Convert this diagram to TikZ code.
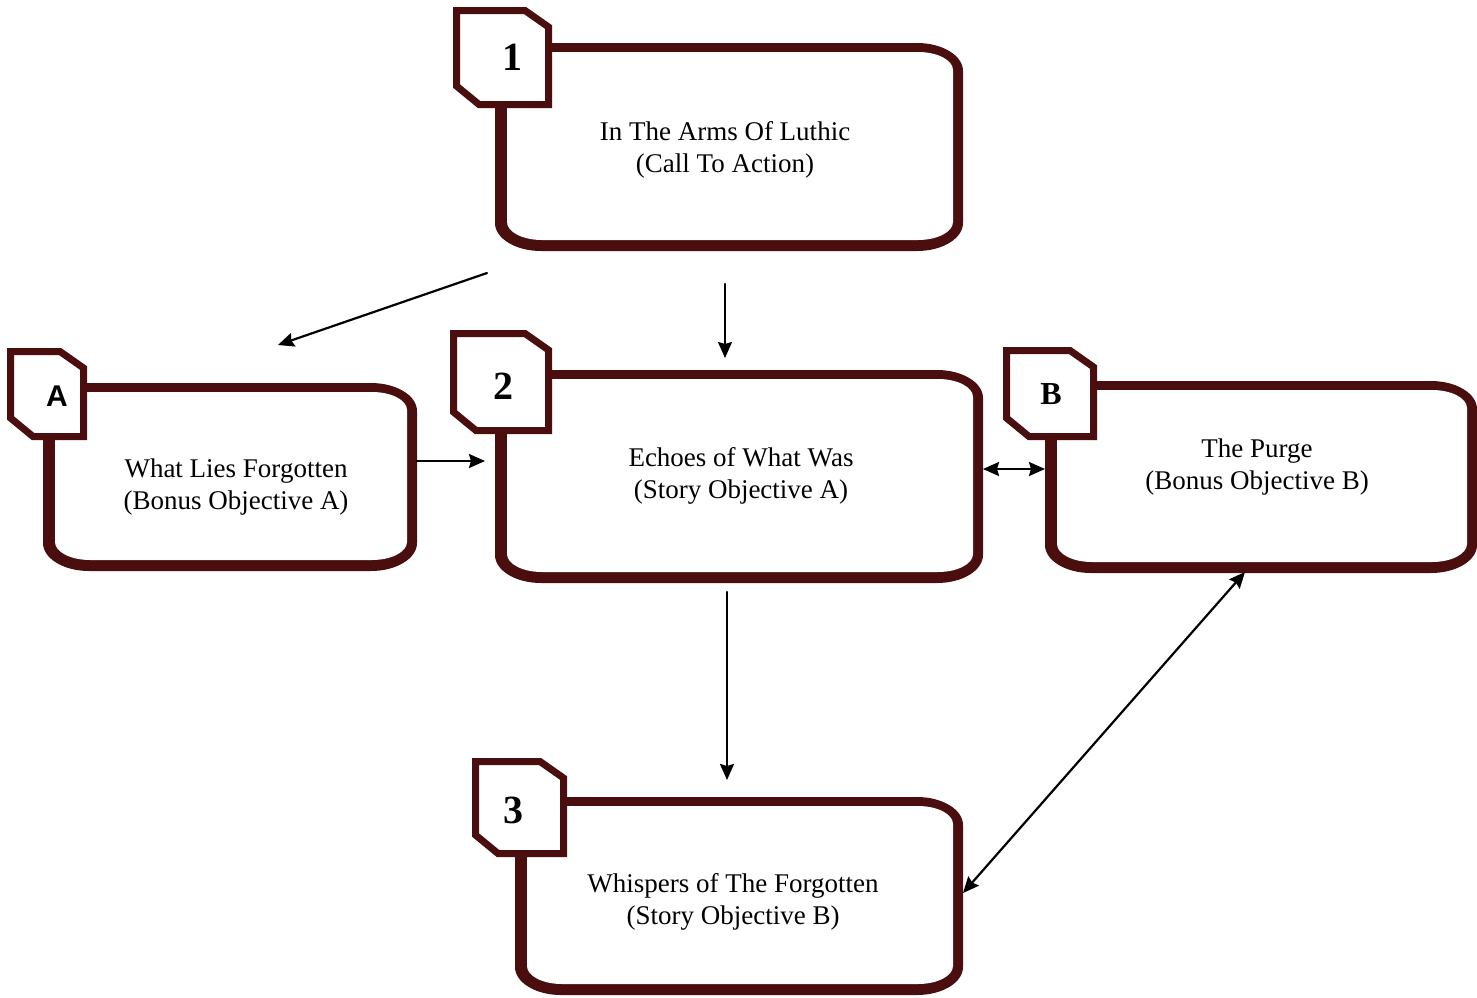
\documentclass[tikz,border=0pt]{standalone}
\usepackage{fontspec}
\setmainfont{Liberation Serif}
\setsansfont{Liberation Sans}
\usetikzlibrary{arrows.meta}
\definecolor{wine}{HTML}{4A0E0E}
\begin{document}
\begin{tikzpicture}[x=.5pt, y=-.5pt, line cap=round, >={Stealth[length=8pt, width=7pt, inset=1pt]}]
	\tikzset{
		quest/.style={align=center, font=\fontsize{13.5}{16}\selectfont},
		tag/.style={font=\fontsize{20}{20}\selectfont\bfseries},
		link/.style={line width=1.1pt}
	}
	% rounded panel, heavier on the left and bottom
	\def\panel(#1,#2,#3,#4){
		\fill[wine] (#1,#2) -- (#3-46,#2) arc[start angle=-90, end angle=0, x radius=46, y radius=28]
			-- (#3,#4-28) arc[start angle=0, end angle=90, x radius=46, y radius=28]
			-- (#1+46,#4) arc[start angle=90, end angle=180, x radius=46, y radius=28] -- cycle;
		\fill[white] (#1+12,#2+9) -- (#3-45,#2+9) arc[start angle=-90, end angle=0, x radius=35, y radius=18]
			-- (#3-10,#4-29) arc[start angle=0, end angle=90, x radius=35, y radius=18]
			-- (#1+47,#4-11) arc[start angle=90, end angle=180, x radius=35, y radius=18] -- cycle;
	}
	% clipped corner tab
	\def\badge(#1,#2,#3,#4){
		\filldraw[fill=white, draw=wine, line width=3.5pt, line join=miter] (#1+3.5,#2+3.5) -- (#3-27,#2+3.5) -- (#3-3.5,#2+20)
			-- (#3-3.5,#4-3.5) -- (#1+26,#4-3.5) -- (#1+3.5,#4-22) -- cycle;
	}
	\useasboundingbox (0,0) rectangle (1477,997);

	\panel(495,43,963,251) \badge(453,7,552,108)
	\panel(43,383,417,571) \badge(7,348,87,440)
	\panel(495,370,983,583) \badge(450,330,552,434)
	\panel(1045,381,1477,573) \badge(1003,347,1097,440)
	\panel(515,797,963,995) \badge(472,758,567,857)

	\node[tag] (n1) at (512,57) {1};
	\node[tag, font=\fontsize{15}{15}\selectfont\sffamily\bfseries] (nA) at (57,396) {A};
	\node[tag] (n2) at (503,386) {2};
	\node[tag, font=\fontsize{16}{16}\selectfont\bfseries] (nB) at (1051,394) {B};
	\node[tag] (n3) at (513,810) {3};

	\node[quest] (call) at (725,150) {In The Arms Of Luthic\\(Call To Action)};
	\node[quest] (lies) at (236,487) {What Lies Forgotten\\(Bonus Objective A)};
	\node[quest] (echo) at (741,476) {Echoes of What Was\\(Story Objective A)};
	\node[quest] (purge) at (1257,467) {The Purge\\(Bonus Objective B)};
	\node[quest] (whisper) at (733,902) {Whispers of The Forgotten\\(Story Objective B)};

	\coordinate (split) at (487,273);
	\coordinate (intoA) at (278,345);
	\coordinate (drop) at (725,284);
	\coordinate (into2) at (725,358);
	\coordinate (outA) at (417,461);
	\coordinate (in2) at (485,461);
	\coordinate (right2) at (983,469);
	\coordinate (leftB) at (1045,469);
	\coordinate (below2) at (727,592);
	\coordinate (into3) at (727,780);
	\coordinate (right3) at (963,893);
	\coordinate (belowB) at (1245,572);

	\draw[link, ->] (split) -- (intoA);
	\draw[link, ->] (drop) -- (into2);
	\draw[link, ->] (outA) -- (in2);
	\draw[link, <->] (right2) -- (leftB);
	\draw[link, ->] (below2) -- (into3);
	\draw[link, <->] (right3) -- (belowB);
\end{tikzpicture}
\end{document}
